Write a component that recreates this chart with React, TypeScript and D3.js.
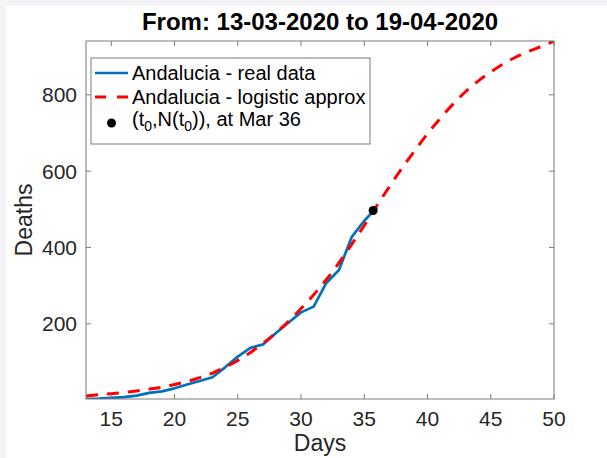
import React from 'react';
import * as d3 from 'd3';

// real data (deaths per day index, March days)
const realDays = [13, 14, 15, 16, 17, 18, 19, 20, 21, 22, 23, 24, 25, 26, 27, 28, 29, 30, 31, 32, 33, 34, 35, 36];
const realDeaths = [3, 4, 6, 8, 12, 19, 23, 31, 41, 50, 60, 86, 114, 137, 146, 175, 203, 230, 245, 307, 341, 427, 470, 505];

// logistic approximation, read at each day
const fitDays = [13, 14, 15, 16, 17, 18, 19, 20, 21, 22, 23, 24, 25, 26, 27, 28, 29, 30, 31,
    32, 33, 34, 35, 36, 37, 38, 39, 40, 41, 42, 43, 44, 45, 46, 47, 48, 49, 50];
const fitDeaths = [11, 14, 17, 20, 24, 29, 34, 41, 49, 59, 71, 86, 104, 125, 149, 176, 206, 240, 276,
    316, 360, 408, 458, 510, 560, 609, 654, 698, 738, 775, 808, 836, 860, 881, 899, 914, 927, 941];

// inflection point
const t0 = 35.7;
const Nt0 = 497;

const xTicks = [15, 20, 25, 30, 35, 40, 45, 50];
const yTicks = [200, 400, 600, 800];

const legendLabels = ['Andalucia - real data', 'Andalucia - logistic approx'];

const FONT = '"Liberation Sans", Arial, Helvetica, sans-serif';
const BLUE = '#0072BD';
const RED = '#FF0000';

export default function App() {
    const width = 607;
    const height = 458;
    const box = { left: 86, right: 554, top: 41, bottom: 399 };

    const x = d3.scaleLinear().domain([13, 50]).range([box.left, box.right]);
    const y = d3.scaleLinear()
        .domain([d3.min(realDeaths), d3.max(fitDeaths)])
        .range([box.bottom, box.top]);

    const realLine = d3.line<number>()
        .x((d, i) => x(realDays[i]))
        .y(d => y(d));

    const fitLine = d3.line<number>()
        .x((d, i) => x(fitDays[i]))
        .y(d => y(d))
        .curve(d3.curveMonotoneX);

    const tickLen = 5;
    const axisColor = '#7a7a7a';
    const textColor = '#262626';

    return (
        <svg width={width} height={height}
            style={{ position: 'absolute', left: 0, top: 0, fontFamily: FONT }}>
            <rect x={0} y={0} width={width} height={height} fill="#f3f3f8" />
            <rect x={6} y={6} width={width - 6} height={height - 6} fill="#ffffff" />

            <defs>
                <clipPath id="plot-area">
                    <rect x={box.left} y={box.top} width={box.right - box.left} height={box.bottom - box.top} />
                </clipPath>
            </defs>

            {/* title */}
            <text x={(box.left + box.right) / 2} y={30} textAnchor="middle"
                fontSize={24} fontWeight="bold" fill="#000">
                From: 13-03-2020 to 19-04-2020
            </text>

            {/* series */}
            <g clipPath="url(#plot-area)">
                <path d={realLine(realDeaths) || ''} fill="none" stroke={BLUE} strokeWidth={2.7}
                    strokeLinejoin="round" />
                <path d={fitLine(fitDeaths) || ''} fill="none" stroke={RED} strokeWidth={3}
                    strokeDasharray="12 9" />
            </g>
            <circle cx={x(t0)} cy={y(Nt0)} r={4.5} fill="#000" />

            {/* axes box */}
            <rect x={box.left} y={box.top} width={box.right - box.left} height={box.bottom - box.top}
                fill="none" stroke={axisColor} strokeWidth={1} />

            {xTicks.map(t => (
                <g key={'x' + t}>
                    <line x1={x(t)} x2={x(t)} y1={box.bottom} y2={box.bottom - tickLen} stroke={axisColor} />
                    <line x1={x(t)} x2={x(t)} y1={box.top} y2={box.top + tickLen} stroke={axisColor} />
                    <text x={x(t)} y={426} textAnchor="middle" fontSize={21} fill={textColor}>{t}</text>
                </g>
            ))}
            {yTicks.map(t => (
                <g key={'y' + t}>
                    <line x1={box.left} x2={box.left + tickLen} y1={y(t)} y2={y(t)} stroke={axisColor} />
                    <line x1={box.right} x2={box.right - tickLen} y1={y(t)} y2={y(t)} stroke={axisColor} />
                    <text x={77} y={y(t)} dy="0.36em" textAnchor="end" fontSize={21} fill={textColor}>{t}</text>
                </g>
            ))}

            {/* axis labels */}
            <text x={(box.left + box.right) / 2} y={451} textAnchor="middle" fontSize={23} fill={textColor}>Days</text>
            <text transform={`translate(32, ${(box.top + box.bottom) / 2}) rotate(-90)`}
                textAnchor="middle" fontSize={23} fill={textColor}>Deaths</text>

            {/* legend */}
            <g>
                <rect x={91} y={58} width={279} height={86} fill="#fff" stroke={axisColor} strokeWidth={1} />
                <line x1={95} x2={128} y1={73} y2={73} stroke={BLUE} strokeWidth={2.7} />
                <text x={132} y={73} dy="0.36em" fontSize={20} fill="#000">{legendLabels[0]}</text>
                <line x1={95} x2={128} y1={97} y2={97} stroke={RED} strokeWidth={3} strokeDasharray="11 11" />
                <text x={132} y={97} dy="0.36em" fontSize={20} fill="#000">{legendLabels[1]}</text>
                <circle cx={111.5} cy={123} r={4.5} fill="#000" />
                <text x={132} y={119} dy="0.36em" fontSize={20} fill="#000">
                    (t<tspan fontSize={14} dy={5}>0</tspan>
                    <tspan dy={-5}>,N(t</tspan>
                    <tspan fontSize={14} dy={5}>0</tspan>
                    <tspan dy={-5}>)), at Mar 36</tspan>
                </text>
            </g>
        </svg>
    );
}
